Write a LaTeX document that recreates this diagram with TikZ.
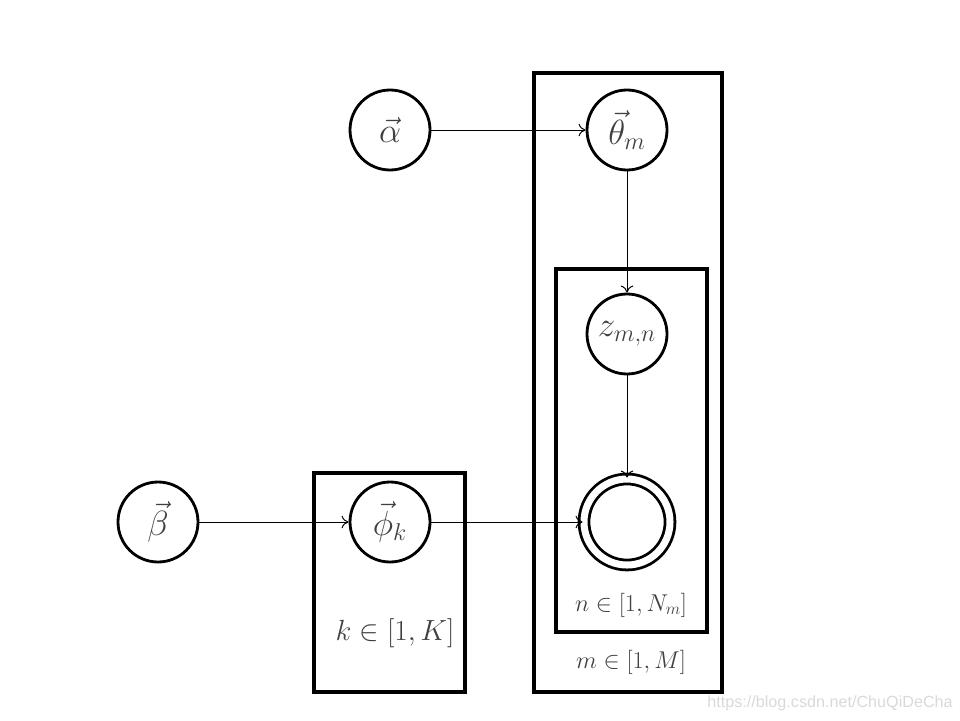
\documentclass[tikz,border=0pt]{standalone}
\usepackage{amsmath}
\usepackage{amssymb}
\usepackage{fontspec}
\newfontfamily\wmfont{Liberation Sans}
\usetikzlibrary{arrows.meta}

\begin{document}
\begin{tikzpicture}[
    var/.style={draw, circle, line width=2pt, minimum size=2cm, inner sep=0pt,
      text=black!75, font=\fontsize{24}{28}\selectfont},
    obs/.style={var, double, double distance=5pt, minimum size=2.15cm},
    plate/.style={draw, line width=2.2pt},
    edge/.style={-{To[length=5pt,width=9pt]}, line width=0.7pt},
    platelabel/.style={text=black!75}]
    \useasboundingbox (0,0) rectangle (24,18);
    % plates
    \draw[plate] (13.35,0.7) rectangle (18.05,16.175);
    \draw[plate] (13.9,2.2) rectangle (17.675,11.275);
    \draw[plate] (7.85,0.7) rectangle (11.625,6.175);
    % variables
    \node[var] (alpha) at (9.75,14.75) {$\vec{\alpha}$};
    \node[var] (theta) at (15.675,14.75) {$\vec{\theta}_m$};
    \node[var] (z) at (15.675,9.65) {$z_{m,n}$};
    \node[obs] (w) at (15.675,4.95) {};
    \node[var] (beta) at (3.95,4.95) {$\vec{\beta}$};
    \node[var] (phi) at (9.75,4.95) {$\vec{\phi}_k$};
    % edges
    \draw[edge] (alpha) -- (theta);
    \draw[edge] (theta) -- (z);
    \draw[edge] (z) -- (w);
    \draw[edge] (beta) -- (phi);
    \draw[edge] (phi) -- (w);
    % plate labels
    \node[platelabel, font=\fontsize{19.5}{24}\selectfont] (lk) at (9.875,2.175) {$k\in[1,K]$};
    \node[platelabel, font=\fontsize{16.5}{20}\selectfont] (ln) at (15.775,2.875) {$n\in[1,N_m]$};
    \node[platelabel, font=\fontsize{16.5}{20}\selectfont] (lm) at (15.775,1.45) {$m\in[1,M]$};
    % watermark
    \node[text=black!15, font=\wmfont\fontsize{11.5}{14}\selectfont] (wm) at (20.75,0.425) {https://blog.csdn.net/ChuQiDeCha};
\end{tikzpicture}
\end{document}
